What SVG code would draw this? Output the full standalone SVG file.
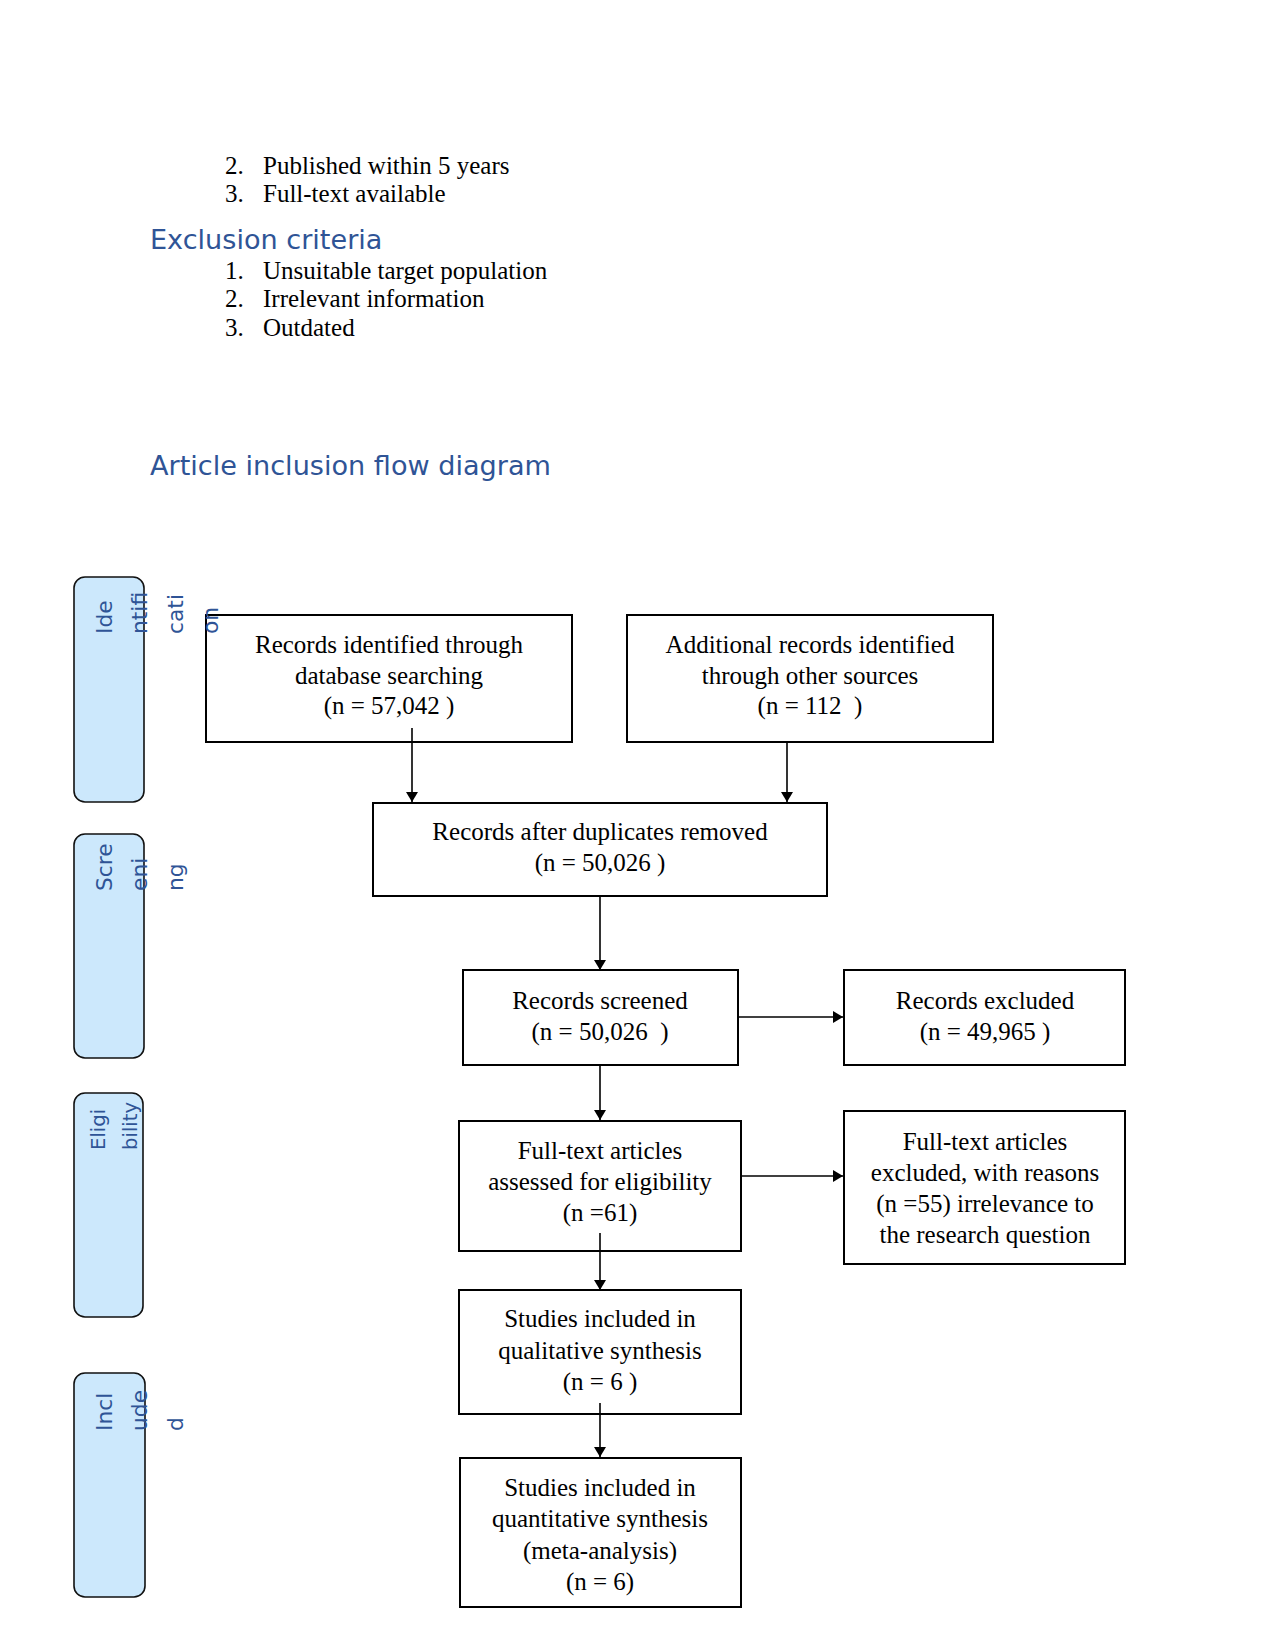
<svg xmlns="http://www.w3.org/2000/svg" width="1275" height="1650" viewBox="0 0 1275 1650">
<defs>
<style>
.serif{font-family:"Liberation Serif","Times New Roman",serif;font-size:25px;fill:#000;}
.ctr{text-anchor:middle;white-space:pre;}
.head{font-family:"DejaVu Sans",sans-serif;font-size:27.1px;fill:#2F5496;}
.side{font-family:"DejaVu Sans",sans-serif;font-size:21.8px;fill:#2F5496;}
.sideS{font-family:"DejaVu Sans",sans-serif;font-size:19.6px;fill:#2F5496;}
.bar{fill:#CCE8FC;stroke:#111;stroke-width:1.6;}
.box{fill:#fff;stroke:#000;stroke-width:2;}
.con{stroke:#000;stroke-width:1.6;fill:none;marker-end:url(#ah);}
</style>
<marker id="ah" markerWidth="11" markerHeight="12" refX="10" refY="6" orient="auto" markerUnits="userSpaceOnUse">
<path d="M0,0 L10,6 L0,12 z" fill="#000"/>
</marker>
</defs>
<rect width="1275" height="1650" fill="#fff"/>

<g id="criteria-text">
<text class="serif" x="225" y="174">2.</text>
<text class="serif" x="263" y="174">Published within 5 years</text>
<text class="serif" x="225" y="202">3.</text>
<text class="serif" x="263" y="202">Full-text available</text>
<text class="head" x="150" y="249">Exclusion criteria</text>
<text class="serif" x="225" y="279">1.</text>
<text class="serif" x="263" y="279">Unsuitable target population</text>
<text class="serif" x="225" y="307">2.</text>
<text class="serif" x="263" y="307">Irrelevant information</text>
<text class="serif" x="225" y="336">3.</text>
<text class="serif" x="263" y="336">Outdated</text>
<text class="head" x="150" y="475">Article inclusion flow diagram</text>
</g>

<g id="node-db">
<rect class="box" x="206" y="615" width="366" height="127"/>
<text class="serif ctr" x="389" y="653">Records identified through</text>
<text class="serif ctr" x="389" y="684">database searching</text>
<text class="serif ctr" x="389" y="714">(n = 57,042 )</text>
</g>
<g id="node-other">
<rect class="box" x="627" y="615" width="366" height="127"/>
<text class="serif ctr" x="810" y="653">Additional records identified</text>
<text class="serif ctr" x="810" y="684">through other sources</text>
<text class="serif ctr" x="810" y="714">(n = 112  )</text>
</g>
<g id="node-dedup">
<rect class="box" x="373" y="803" width="454" height="93"/>
<text class="serif ctr" x="600" y="840">Records after duplicates removed</text>
<text class="serif ctr" x="600" y="871">(n = 50,026 )</text>
</g>
<g id="node-screened">
<rect class="box" x="463" y="970" width="275" height="95"/>
<text class="serif ctr" x="600" y="1009">Records screened</text>
<text class="serif ctr" x="600" y="1040">(n = 50,026  )</text>
</g>
<g id="node-excluded">
<rect class="box" x="844" y="970" width="281" height="95"/>
<text class="serif ctr" x="985" y="1009">Records excluded</text>
<text class="serif ctr" x="985" y="1040">(n = 49,965 )</text>
</g>
<g id="node-fulltext">
<rect class="box" x="459" y="1121" width="282" height="130"/>
<text class="serif ctr" x="600" y="1159">Full-text articles</text>
<text class="serif ctr" x="600" y="1190">assessed for eligibility</text>
<text class="serif ctr" x="600" y="1221">(n =61)</text>
</g>
<g id="node-ft-excluded">
<rect class="box" x="844" y="1111" width="281" height="153"/>
<text class="serif ctr" x="985" y="1150">Full-text articles</text>
<text class="serif ctr" x="985" y="1181">excluded, with reasons</text>
<text class="serif ctr" x="985" y="1212">(n =55) irrelevance to</text>
<text class="serif ctr" x="985" y="1243">the research question</text>
</g>
<g id="node-qualitative">
<rect class="box" x="459" y="1290" width="282" height="124"/>
<text class="serif ctr" x="600" y="1327">Studies included in</text>
<text class="serif ctr" x="600" y="1359">qualitative synthesis</text>
<text class="serif ctr" x="600" y="1390">(n = 6 )</text>
</g>
<g id="node-quantitative">
<rect class="box" x="460" y="1458" width="281" height="149"/>
<text class="serif ctr" x="600" y="1496">Studies included in</text>
<text class="serif ctr" x="600" y="1527">quantitative synthesis</text>
<text class="serif ctr" x="600" y="1559">(meta-analysis)</text>
<text class="serif ctr" x="600" y="1590">(n = 6)</text>
</g>

<g id="connectors">
<line class="con" x1="412" y1="728" x2="412" y2="802"/>
<line class="con" x1="787" y1="742" x2="787" y2="802"/>
<line class="con" x1="600" y1="895" x2="600" y2="970"/>
<line class="con" x1="737" y1="1017" x2="843" y2="1017"/>
<line class="con" x1="600" y1="1065" x2="600" y2="1120"/>
<line class="con" x1="741" y1="1176" x2="843" y2="1176"/>
<line class="con" x1="600" y1="1233" x2="600" y2="1290"/>
<line class="con" x1="600" y1="1403" x2="600" y2="1457"/>
</g>

<g id="stage-identification">
<rect class="bar" x="74" y="577" width="70" height="225" rx="11"/>
<text class="side" transform="translate(112,634) rotate(-90)">Ide</text>
<text class="side" transform="translate(147,634) rotate(-90)">ntifi</text>
<text class="side" transform="translate(183,634) rotate(-90)">cati</text>
<text class="side" transform="translate(218,634) rotate(-90)">on</text>
</g>
<g id="stage-screening">
<rect class="bar" x="74" y="834" width="70" height="224" rx="11"/>
<text class="side" transform="translate(112,891) rotate(-90)">Scre</text>
<text class="side" transform="translate(147,891) rotate(-90)">eni</text>
<text class="side" transform="translate(183,891) rotate(-90)">ng</text>
</g>
<g id="stage-eligibility">
<rect class="bar" x="74" y="1093" width="69" height="224" rx="11"/>
<text class="sideS" transform="translate(105,1150) rotate(-90)">Eligi</text>
<text class="sideS" transform="translate(137,1150) rotate(-90)">bility</text>
</g>
<g id="stage-included">
<rect class="bar" x="74" y="1373" width="71" height="224" rx="11"/>
<text class="side" transform="translate(112,1431) rotate(-90)">Incl</text>
<text class="side" transform="translate(147,1431) rotate(-90)">ude</text>
<text class="side" transform="translate(183,1431) rotate(-90)">d</text>
</g>
</svg>
